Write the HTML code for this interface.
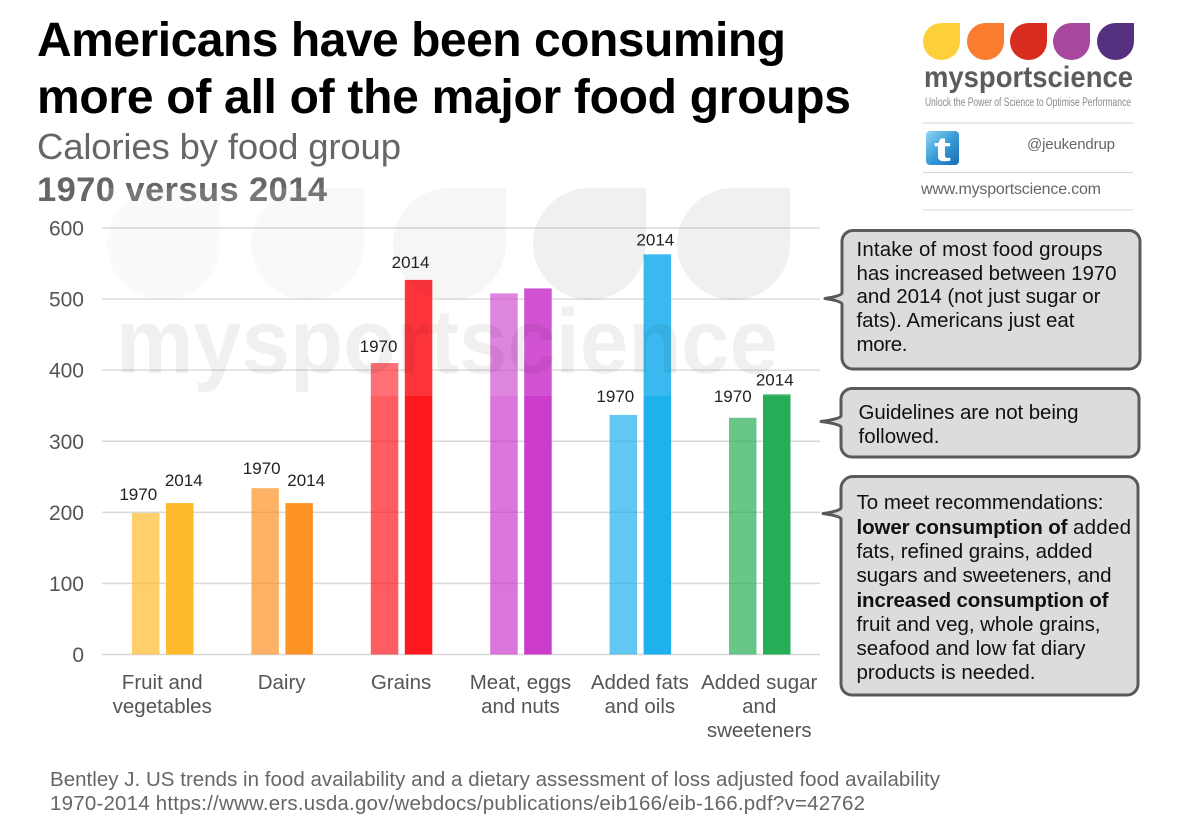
<!DOCTYPE html>
<html lang="en">
<head>
<meta charset="utf-8">
<title>Americans have been consuming more of all of the major food groups</title>
<style>
html,body{margin:0;padding:0;background:#fff;width:1200px;height:830px;overflow:hidden}
svg{display:block;font-family:"Liberation Sans",Arial,sans-serif}
</style>
</head>
<body>
<svg id="chart" xmlns="http://www.w3.org/2000/svg" width="1200" height="830" viewBox="0 0 1200 830">
  <defs>
    <linearGradient id="twGrad" x1="0" y1="0" x2="1" y2="1">
      <stop offset="0" stop-color="#8fd8f5"/>
      <stop offset="0.5" stop-color="#3a9bd8"/>
      <stop offset="1" stop-color="#156db5"/>
    </linearGradient>
  </defs>

  <rect width="1200" height="830" fill="#fff"/>

  <text x="37" y="56" font-size="48" font-weight="700" fill="#000" textLength="749" lengthAdjust="spacing">Americans have been consuming</text>
  <text x="37" y="113" font-size="48" font-weight="700" fill="#000" textLength="814" lengthAdjust="spacing">more of all of the major food groups</text>
  <text x="37" y="159" font-size="36.500" fill="#666" textLength="364" lengthAdjust="spacing">Calories by food group</text>
  <text x="37" y="201" font-size="34.500" font-weight="700" fill="#666" textLength="290" lengthAdjust="spacing">1970 versus 2014</text>

  <g id="gridLayer"></g>
  <g id="tickLayer" font-size="21" fill="#555" text-anchor="end"></g>
  <g id="barLayer"></g>

  <rect x="102" y="188" width="718" height="208" fill="#fff" opacity="0.12"/>
  <g fill="#000">
    <path opacity="0.018" transform="translate(107,188)" d="M56 0H113V56A56.500 56 0 1 1 56 0Z"/>
    <path opacity="0.025" transform="translate(251,188)" d="M56 0H113V56A56.500 56 0 1 1 56 0Z"/>
    <path opacity="0.035" transform="translate(393,188)" d="M56 0H113V56A56.500 56 0 1 1 56 0Z"/>
    <path opacity="0.06" transform="translate(533,188)" d="M56 0H113V56A56.500 56 0 1 1 56 0Z"/>
    <path opacity="0.06" transform="translate(677,188)" d="M56 0H113V56A56.500 56 0 1 1 56 0Z"/>
    <text opacity="0.055" x="116" y="373" font-size="92" font-weight="700" textLength="662" lengthAdjust="spacingAndGlyphs">mysportscience</text>
  </g>

  <g id="labelLayer" font-size="17" fill="#222" text-anchor="middle"></g>
  <g id="catLayer" font-size="20.500" fill="#555" text-anchor="middle"></g>

  <g>
    <path fill="#fdd03a" transform="translate(923,23)" d="M18.500 0H37V18.500A18.500 18.500 0 1 1 18.500 0Z"/>
    <path fill="#f97c2f" transform="translate(967,23)" d="M18.500 0H37V18.500A18.500 18.500 0 1 1 18.500 0Z"/>
    <path fill="#d92c20" transform="translate(1010,23)" d="M18.500 0H37V18.500A18.500 18.500 0 1 1 18.500 0Z"/>
    <path fill="#a7479f" transform="translate(1053,23)" d="M18.500 0H37V18.500A18.500 18.500 0 1 1 18.500 0Z"/>
    <path fill="#54307f" transform="translate(1097,23)" d="M18.500 0H37V18.500A18.500 18.500 0 1 1 18.500 0Z"/>
    <text x="924" y="87" font-size="30" font-weight="700" fill="#5c5c5e" textLength="209" lengthAdjust="spacingAndGlyphs">mysportscience</text>
    <text x="925" y="106" font-size="11.500" fill="#8a8a8a" textLength="206" lengthAdjust="spacingAndGlyphs">Unlock the Power of Science to Optimise Performance</text>
  </g>
  <rect x="923" y="122.500" width="210" height="1" fill="#d5d5d5"/>
  <rect x="923" y="172" width="210" height="1" fill="#d5d5d5"/>
  <rect x="923" y="209.500" width="210" height="1" fill="#d5d5d5"/>
  <g>
    <rect x="926" y="131" width="33" height="34" rx="4" fill="url(#twGrad)"/>
    <text x="934" y="161" font-size="34" font-weight="700" fill="#fff" textLength="17" lengthAdjust="spacingAndGlyphs">t</text>
  </g>
  <text x="1027" y="149" font-size="15" fill="#666" textLength="88" lengthAdjust="spacing">@jeukendrup</text>
  <text x="921" y="194" font-size="16" fill="#666" textLength="180" lengthAdjust="spacing">www.mysportscience.com</text>

  <g>
    <path fill="#dcdcdc" stroke="#5a5a5a" stroke-width="3" stroke-linejoin="round" d="M853 230.500H1129a11 11 0 0 1 11 11V358a11 11 0 0 1-11 11H853a11 11 0 0 1-11-11V304Q841 301 825 298.500Q841 296 842 293V241.500a11 11 0 0 1 11-11Z"/>
    <g font-size="20.500" fill="#111">
      <text x="856.500" y="256" textLength="246" lengthAdjust="spacing">Intake of most food groups</text>
      <text x="856.500" y="280" textLength="260" lengthAdjust="spacing">has increased between 1970</text>
      <text x="856.500" y="303" textLength="244" lengthAdjust="spacing">and 2014 (not just sugar or</text>
      <text x="856.500" y="327" textLength="218" lengthAdjust="spacing">fats). Americans just eat</text>
      <text x="856.500" y="351" textLength="51" lengthAdjust="spacing">more.</text>
    </g>
  </g>
  <g>
    <path fill="#dcdcdc" stroke="#5a5a5a" stroke-width="3" stroke-linejoin="round" d="M852 388.500H1129a10 10 0 0 1 10 10V447a10 10 0 0 1-10 10H852a11 11 0 0 1-11-11V427Q840 424 821 421.500Q840 419 841 416V399.500a11 11 0 0 1 11-11Z"/>
    <g font-size="20.500" fill="#111">
      <text x="858.500" y="419" textLength="220" lengthAdjust="spacing">Guidelines are not being</text>
      <text x="858.500" y="443" textLength="81" lengthAdjust="spacing">followed.</text>
    </g>
  </g>
  <g>
    <path fill="#dcdcdc" stroke="#5a5a5a" stroke-width="3" stroke-linejoin="round" d="M853 476.500H1127a11 11 0 0 1 11 11V684a11 11 0 0 1-11 11H852a11 11 0 0 1-11-11V519Q840 516 823 513.500Q840 511 841 508V488.500a12 12 0 0 1 12-12Z"/>
    <g font-size="20.500" fill="#111">
      <text x="856.500" y="509" textLength="247" lengthAdjust="spacing">To meet recommendations:</text>
      <text x="856.500" y="534" font-weight="700" textLength="211" lengthAdjust="spacing">lower consumption of</text>
      <text x="1073" y="534" textLength="58" lengthAdjust="spacing">added</text>
      <text x="856.500" y="558" textLength="236" lengthAdjust="spacing">fats, refined grains, added</text>
      <text x="856.500" y="582" textLength="255" lengthAdjust="spacing">sugars and sweeteners, and</text>
      <text x="856.500" y="607" font-weight="700" textLength="252" lengthAdjust="spacing">increased consumption of</text>
      <text x="856.500" y="631" textLength="244" lengthAdjust="spacing">fruit and veg, whole grains,</text>
      <text x="856.500" y="655" textLength="229" lengthAdjust="spacing">seafood and low fat diary</text>
      <text x="856.500" y="679" textLength="179" lengthAdjust="spacing">products is needed.</text>
    </g>
  </g>

  <text x="50" y="786" font-size="20.500" fill="#666" textLength="890" lengthAdjust="spacing">Bentley J. US trends in food availability and a dietary assessment of loss adjusted food availability</text>
  <text x="50" y="810" font-size="20.500" fill="#666" textLength="815" lengthAdjust="spacing">1970-2014 https://www.ers.usda.gov/webdocs/publications/eib166/eib-166.pdf?v=42762</text>
</svg>

<script>
const categories = ['Fruit and vegetables', 'Dairy', 'Grains', 'Meat, eggs and nuts', 'Added fats and oils', 'Added sugar and sweeteners'];
const categoryLines = [['Fruit and', 'vegetables'], ['Dairy'], ['Grains'], ['Meat, eggs', 'and nuts'], ['Added fats', 'and oils'], ['Added sugar', 'and', 'sweeteners']];
const values1970 = [199, 234, 410, 508, 337, 333];
const values2014 = [213, 213, 527, 515, 563, 366];
const yTickLabels = [0, 100, 200, 300, 400, 500, 600];
const showYearLabels = [true, true, true, false, true, true];

const SVG_NS = 'http://www.w3.org/2000/svg';
const baseColors = ['#feba2c', '#fd9225', '#fe1820', '#cb3bcc', '#1fb0ee', '#26ae56'];

const Y0 = 654.5, YPER = (654.5 - 228) / 600;
function yScale(v) { return Y0 - v * YPER; }
const GROUP_X0 = 132, GROUP_STEP = 119.4, BAR_W = 27.5, BAR_GAP = 34;
function xScale(groupIndex, seriesIndex) { return GROUP_X0 + groupIndex * GROUP_STEP + seriesIndex * BAR_GAP; }

function make(tag, attrs, parent, text) {
  const el = document.createElementNS(SVG_NS, tag);
  for (const k in attrs) el.setAttribute(k, attrs[k]);
  if (text !== undefined) el.textContent = text;
  parent.appendChild(el);
  return el;
}

const gridLayer = document.getElementById('gridLayer');
const tickLayer = document.getElementById('tickLayer');
const barLayer = document.getElementById('barLayer');
const labelLayer = document.getElementById('labelLayer');
const catLayer = document.getElementById('catLayer');

yTickLabels.forEach(function (t) {
  const line = make('rect', { x: 102, y: yScale(t) - 0.75, width: 718, height: 1.5, fill: '#d8d8d8' }, gridLayer);
  
  
  const tick = make('text', { x: 84, y: yScale(t) + 7.5 }, tickLayer, String(t));
  
  
});

/* layout nudges for the hand-placed year labels, in px relative to each bar's top centre */
const nudge1970 = [[-7.500, -13], [-3.500, -14], [-6, -11], [0, 0], [-8, -13], [-10, -16]];
const nudge2014 = [[4, -17], [7, -17], [-8, -12], [0, 0], [-2, -9], [-2, -9]];

categories.forEach(function (name, i) {
  [[values1970, 0, 0.7, nudge1970, '1970'], [values2014, 1, 1, nudge2014, '2014']].forEach(function (s) {
    const val = s[0][i], x = xScale(i, s[1]), top = yScale(val);
    const bar = make('rect', { x: x, y: top, width: BAR_W, height: Y0 - top, fill: baseColors[i], opacity: s[2] }, barLayer);
    
    
    if (showYearLabels[i]) {
      const lab = make('text', { x: x + BAR_W / 2 + s[3][i][0], y: top + s[3][i][1] }, labelLayer, s[4]);
      
      
    }
  });
  const cx = xScale(i, 0) + (BAR_GAP + BAR_W) / 2 - 0.5;
  categoryLines[i].forEach(function (ln, j) {
    const c = make('text', { x: cx, y: 689 + j * 24 }, catLayer, ln);
    
    
  });
});
</script>
</body>
</html>
